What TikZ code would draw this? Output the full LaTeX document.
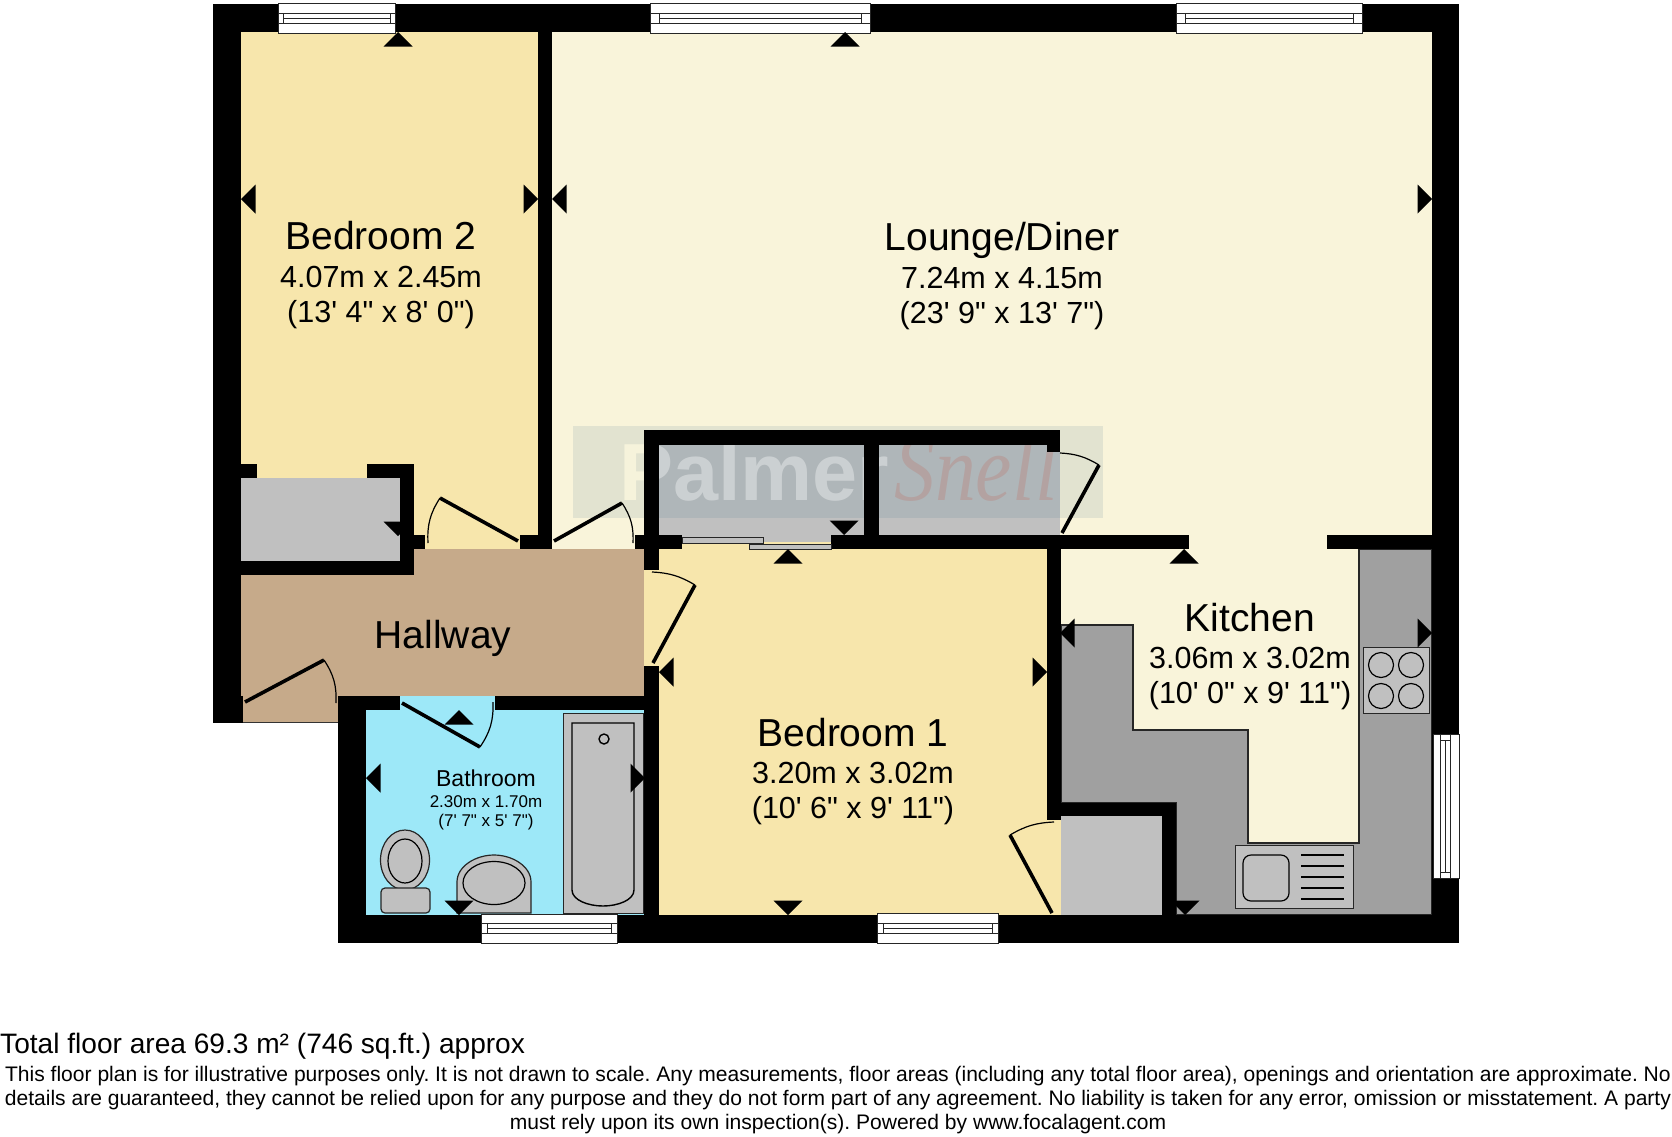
\documentclass[tikz,border=0pt]{standalone}
\usepackage{fontspec}
\setmainfont{Liberation Sans}[Ligatures=TeXOff]
\newfontfamily\wmserif{Liberation Serif}[Ligatures=TeXOff]
\begin{document}
\begin{tikzpicture}[x=1pt,y=-1pt,
  every node/.append style={execute at begin node=\frenchspacing},
  wall/.style={fill=black},
  floorlounge/.style={fill=fcream},
  floorbed/.style={fill=fbed},
  floorhall/.style={fill=fhall},
  floorbath/.style={fill=fbath},
  floorstore/.style={fill=fstore},
  fixture/.style={draw=black!85,line width=1pt,fill=fstore},
  fixturein/.style={draw=black,line width=1.4pt,fill=fstore},
  worktop/.style={draw=black!85,line width=1.2pt,fill=fwork},
  winline/.style={draw=black!85,line width=1pt},
  leaf/.style={draw=black,line width=3.6pt},
  swing/.style={draw=black,line width=1.2pt},
  roomtitle/.style={anchor=base,inner sep=0pt,font=\fontsize{39}{39}\selectfont,text=black},
  roomdim/.style={anchor=base,inner sep=0pt,font=\fontsize{30.5}{30.5}\selectfont,text=black},
  bathtitle/.style={anchor=base,inner sep=0pt,font=\fontsize{23}{23}\selectfont,text=black},
  bathdim/.style={anchor=base,inner sep=0pt,font=\fontsize{17}{17}\selectfont,text=black},
  foot/.style={anchor=base,inner sep=0pt,font=\fontsize{21.05}{21}\selectfont},
  wmbold/.style={anchor=base west,inner sep=0pt,font=\fontsize{81}{81}\selectfont\bfseries},
  marker/.pic={\fill[black] (0,0) -- (-14.5,14.5) -- (14.5,14.5) -- cycle;}
]
\definecolor{fcream}{HTML}{F9F4DA}
\definecolor{fbed}{HTML}{F7E6AC}
\definecolor{fhall}{HTML}{C6AA8A}
\definecolor{fbath}{HTML}{9DE8F8}
\definecolor{fstore}{HTML}{C0C0C0}
\definecolor{fwork}{HTML}{A0A0A0}
\definecolor{wmtint}{RGB}{60,110,140}
\definecolor{wmred}{RGB}{200,60,40}
\newcommand{\winh}[5]{% x1,y1,x2,y2,tick
  \pgfmathsetmacro{\wa}{#2+(#4-#2)/3}\pgfmathsetmacro{\wb}{#2+(#4-#2)/2}\pgfmathsetmacro{\wc}{#2+2*(#4-#2)/3}
  \pgfmathsetmacro{\wl}{#1+#5}\pgfmathsetmacro{\wr}{#3-#5}
  \draw[winline,fill=white] (#1,#2) rectangle (#3,#4);
  \draw[winline] (#1,\wa) -- (#3,\wa) (#1,\wc) -- (#3,\wc) (\wl,\wb) -- (\wr,\wb) (\wl,\wa) -- (\wl,\wc) (\wr,\wa) -- (\wr,\wc);}
\useasboundingbox (0,0) rectangle (1672,1136);
\fill[white] (0,0) rectangle (1672,1136);
% floors
\fill[floorlounge] (552,32) rectangle (1432,535);
\fill[floorlounge] (552,535) rectangle (635,549);
\fill[floorbed] (241,32) rectangle (538,549);
\fill[floorstore] (241,478) rectangle (400,561);
\fill[floorhall] (241,575) -- (414,575) -- (414,549) -- (644,549) -- (644,696) -- (338,696) -- (338,722) -- (241,722) -- cycle;
\draw[black!80,line width=.8pt] (241,722) -- (338,722);
\fill[floorbed] (659,542) rectangle (1047,915);
\fill[floorbed] (644,570) rectangle (659,666);
\fill[floorbed] (1047,820) rectangle (1061,915);
\fill[floorbath] (366,710) rectangle (645,915);
\fill[floorbath] (400,696) rectangle (495,710);
\fill[floorstore] (659,445) rectangle (864,542);
\fill[floorstore] (879,445) rectangle (1060,535);
\fill[floorlounge] (1061,549) rectangle (1432,915);
\fill[floorlounge] (1189,535) rectangle (1327,549);
\fill[floorstore] (1061,816) rectangle (1162,915);
% watermark
\fill[wmtint,fill opacity=.12] (573,426) rectangle (1103,518);
\begin{scope}
  \clip (573,426) rectangle (644,518);
  \node[wmbold,text=fcream!92!white,text opacity=.9] (wmpa) at (619,500) {Palmer};
\end{scope}
\begin{scope}
  \clip (644,426) rectangle (1103,518);
  \node[wmbold,text=white,text opacity=.36] (wmpb) at (619,500) {Palmer};
\end{scope}
\node[anchor=base west,inner sep=0pt,xscale=.87,transform shape,text=wmred,text opacity=.16,font=\fontsize{94}{94}\selectfont\wmserif\itshape] (wms) at (894,500) {Snell};
% worktops
\draw[worktop] (1061,625) -- (1133,625) -- (1133,730) -- (1248,730) -- (1248,843) -- (1359,843) -- (1359,549) -- (1432,549) -- (1432,915) -- (1176,915) -- (1176,803) -- (1061,803) -- cycle;
% walls
\fill[wall] (213,4) rectangle (1459,32);
\fill[wall] (213,4) rectangle (241,723);
\fill[wall] (241,696) rectangle (243,723);
\fill[wall] (1432,4) rectangle (1459,943);
\fill[wall] (338,915) rectangle (1459,943);
\fill[wall] (338,696) rectangle (366,943);
\fill[wall] (338,696) rectangle (400,710);
\fill[wall] (495,696) rectangle (659,710);
\fill[wall] (644,430) rectangle (659,570);
\fill[wall] (644,666) rectangle (659,915);
\fill[wall] (538,32) rectangle (552,549);
\fill[wall] (520,535) rectangle (552,549);
\fill[wall] (241,464) rectangle (257,478);
\fill[wall] (367,464) rectangle (414,478);
\fill[wall] (400,464) rectangle (414,575);
\fill[wall] (241,561) rectangle (414,575);
\fill[wall] (414,535) rectangle (425,549);
\fill[wall] (635,535) rectangle (682,549);
\fill[wall] (644,430) rectangle (1060,445);
\fill[wall] (1047,445) rectangle (1060,452);
\fill[wall] (864,445) rectangle (879,535);
\fill[wall] (831,535) rectangle (1189,549);
\fill[wall] (1327,535) rectangle (1432,549);
\fill[wall] (1047,535) rectangle (1061,820);
\fill[wall] (1061,803) rectangle (1176,816);
\fill[wall] (1162,803) rectangle (1176,915);
% sliding door
\draw[fixture] (682,537) rectangle (763,543);
\draw[fixture] (749,544) rectangle (831,549);
% windows
\winh{278}{3}{395}{33}{5}
\winh{650}{3}{870}{33}{9}
\winh{1176}{3}{1362}{33}{9}
\winh{481}{914}{617}{943}{6}
\winh{877}{913}{998}{943}{6}
\draw[winline,fill=white] (1433,734) rectangle (1459,878);
\draw[winline] (1440,734) -- (1440,878) (1450,734) -- (1450,878) (1445,740) -- (1445,872) (1440,740) -- (1450,740) (1440,872) -- (1450,872);
% doors
\draw[leaf] (518,541) -- (440,498);
\draw[swing] (440,498) to[bend right=18] (428,543);
\draw[leaf] (554,541) -- (622,503);
\draw[swing] (622,503) to[bend left=18] (633,543);
\draw[leaf] (695,585) -- (653,663);
\draw[swing] (695,585) to[bend right=14] (652,572);
\draw[leaf] (245,702) -- (324,660);
\draw[swing] (324,660) to[bend left=18] (336,703);
\draw[leaf] (402,703) -- (480,747);
\draw[swing] (480,747) to[bend right=18] (493,702);
\draw[leaf] (1062,533) -- (1099,465);
\draw[swing] (1099,465) to[bend right=14] (1060,453);
\draw[leaf] (1052,913) -- (1010,835);
\draw[swing] (1010,835) to[bend left=14] (1054,822);
% bath
\draw[fixture] (563,713) rectangle (643,913);
\draw[fixturein] (572,723) -- (634,723) -- (634,890) .. controls (634,900) and (618,906) .. (603,906) .. controls (588,906) and (572,900) .. (572,890) -- cycle;
\draw[fixturein] (604,739) circle (5);
% toilet
\draw[fixture,line width=1.2pt] (405,860) ellipse (24.5 and 30);
\draw[fixturein,line width=1.2pt] (405,861) ellipse (17 and 22);
\draw[fixture,line width=1.2pt,rounded corners=4pt] (381,888) rectangle (430,913);
% basin
\draw[fixture,line width=1.2pt] (457,913) -- (457,882) .. controls (457,866) and (476,855) .. (494,855) .. controls (512,855) and (531,866) .. (531,882) -- (531,913) -- cycle;
\draw[fixturein,line width=1.2pt] (494,883) ellipse (31 and 21.5);
% hob
\draw[fixture] (1363,647) rectangle (1429,713);
\foreach \hx/\hy in {1381/665,1411/665,1381/696,1411/696} \draw[fixturein,line width=1.2pt] (\hx,\hy) circle (12.5);
% sink
\draw[fixture] (1235,845) rectangle (1353,908);
\draw[fixturein,line width=1.2pt,rounded corners=8pt] (1243,855) rectangle (1289,901);
\foreach \sy in {855,866,877,888,899} \draw[black,line width=1.2pt] (1301,\sy) -- (1344,\sy);
% markers
\pic at (398,32) {marker};
\pic at (845,32) {marker};
\pic at (788,549) {marker};
\pic at (1184,549) {marker};
\pic at (459,710) {marker};
\pic[rotate=180] at (398,536) {marker};
\pic[rotate=180] at (844,535) {marker};
\pic[rotate=180] at (1185,915) {marker};
\pic[rotate=180] at (788,915) {marker};
\pic[rotate=180] at (459,915) {marker};
\pic[rotate=90] at (241,199) {marker};
\pic[rotate=90] at (552,199) {marker};
\pic[rotate=90] at (659,672) {marker};
\pic[rotate=90] at (1060,633) {marker};
\pic[rotate=90] at (366,778) {marker};
\pic[rotate=-90] at (538,199) {marker};
\pic[rotate=-90] at (1432,199) {marker};
\pic[rotate=-90] at (1047,672) {marker};
\pic[rotate=-90] at (1432,633) {marker};
\pic[rotate=-90] at (645,778) {marker};
% text
\node[roomtitle] (b2t) at (381,249) {Bedroom 2};
\node[roomdim] (b2d) at (381,287) {4.07m x 2.45m};
\node[roomdim] (b2i) at (381,322) {(13' 4" x 8' 0")};
\node[roomtitle] (ldt) at (1002,250) {Lounge/Diner};
\node[roomdim] (ldd) at (1002,288) {7.24m x 4.15m};
\node[roomdim] (ldi) at (1002,323) {(23' 9" x 13' 7")};
\node[roomtitle] (kit) at (1250,631) {Kitchen};
\node[roomdim] (kid) at (1250,668) {3.06m x 3.02m};
\node[roomdim] (kii) at (1250,703) {(10' 0" x 9' 11")};
\node[roomtitle] (b1t) at (853,746) {Bedroom 1};
\node[roomdim] (b1d) at (853,783) {3.20m x 3.02m};
\node[roomdim] (b1i) at (853,818) {(10' 6" x 9' 11")};
\node[roomtitle] (hal) at (443,648) {Hallway};
\node[bathtitle] (bat) at (486,786) {Bathroom};
\node[bathdim] (bad) at (486,807) {2.30m x 1.70m};
\node[bathdim] (bai) at (486,826) {(7' 7" x 5' 7")};
% footer
\node[anchor=base west,inner sep=0pt,font=\fontsize{28.1}{28}\selectfont] (area) at (0,1053) {Total floor area 69.3 m² (746 sq.ft.) approx};
\node[foot] (f1) at (838,1081) {This floor plan is for illustrative purposes only. It is not drawn to scale. Any measurements, floor areas (including any total floor area), openings and orientation are approximate. No};
\node[foot] (f2) at (838,1105) {details are guaranteed, they cannot be relied upon for any purpose and they do not form part of any agreement. No liability is taken for any error, omission or misstatement. A party};
\node[foot] (f3) at (838,1129) {must rely upon its own inspection(s). Powered by www.focalagent.com};
\end{tikzpicture}
\end{document}
